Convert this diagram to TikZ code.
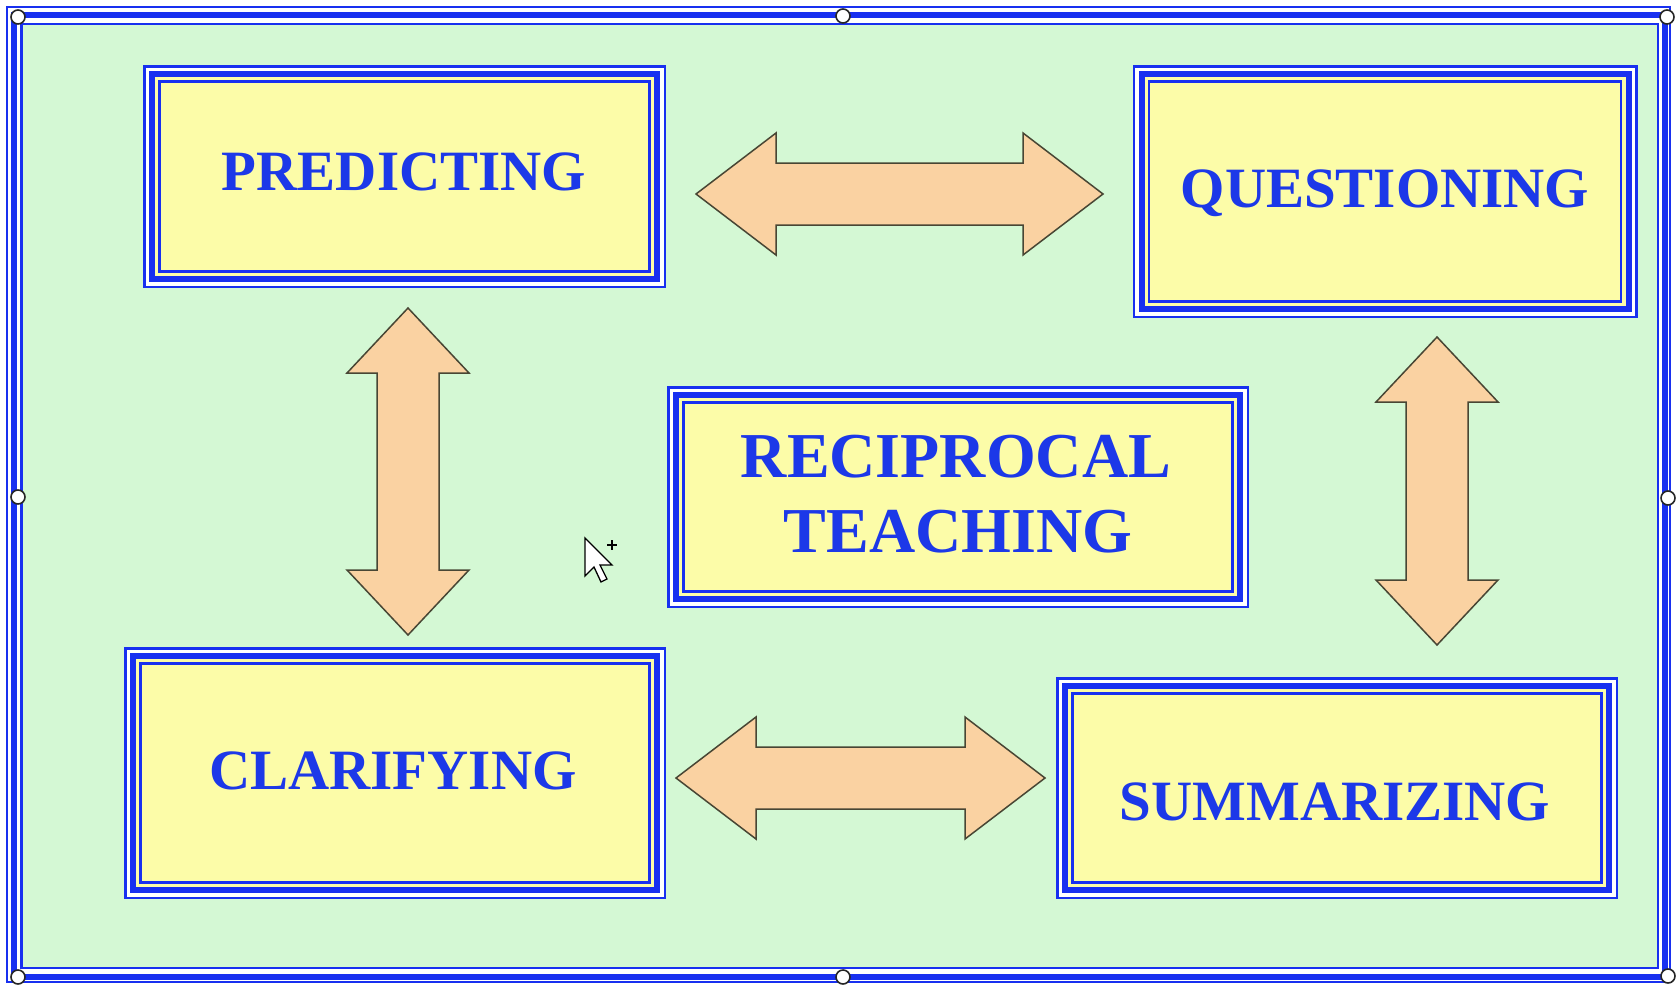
\documentclass[tikz,border=0pt]{standalone}
\usepackage{fontspec}
\setmainfont{Liberation Serif}
\usetikzlibrary{calc}

\definecolor{bggreen}{RGB}{212,248,212}
\definecolor{boxyellow}{RGB}{252,252,168}
\definecolor{lineblue}{RGB}{24,48,240}
\definecolor{textblue}{RGB}{28,56,232}
\definecolor{arrowpeach}{RGB}{250,210,162}
\definecolor{arrowedge}{RGB}{72,70,52}

\tikzset{
  box/.style={draw=lineblue, line width=6pt, fill=boxyellow, outer sep=0pt, inner sep=0pt,
    preaction={draw=lineblue, line width=18pt},
    preaction={draw=white, line width=13pt}},
  thinline/.style={draw=lineblue, line width=2.4pt},
  lbl/.style={text=textblue, font=\fontsize{57}{60}\selectfont\bfseries, anchor=base, inner sep=0pt},
  biglbl/.style={lbl, font=\fontsize{64}{66}\selectfont\bfseries},
  blockarrow/.style={fill=arrowpeach, draw=arrowedge, line width=1.5pt, line join=miter},
  handle/.style={fill=white, draw=black!85, line width=1.6pt}
}

% double block arrows between two tips
\newcommand{\hdouble}[2]{%
  \draw[blockarrow] (#1) -- ++(80,-61) -- ++(0,30) -- ($(#2)+(-80,-31)$) -- ++(0,-30)
    -- (#2) -- ++(-80,61) -- ++(0,-30) -- ($(#1)+(80,31)$) -- ++(0,30) -- cycle;}
\newcommand{\vdouble}[2]{%
  \draw[blockarrow] (#1) -- ++(61,65) -- ++(-30,0) -- ($(#2)+(31,-65)$) -- ++(30,0)
    -- (#2) -- ++(-61,-65) -- ++(30,0) -- ($(#1)+(-31,65)$) -- ++(-30,0) -- cycle;}

\begin{document}
\begin{tikzpicture}[x=1pt, y=-1pt]
    \useasboundingbox[fill=white] (0,0) rectangle (1677,985);
    % frame
    \draw[thinline] (7,7) rectangle (1670,982);
    \draw[draw=lineblue, line width=6pt] (13.5,15) rectangle (1665,977);
    \draw[thinline, fill=bggreen] (21.5,24) rectangle (1658,968);

    % boxes
    \node[box, minimum width=505pt, minimum height=205pt] (P) at (404.5,176.5) {};
    \node[box, minimum width=487pt, minimum height=235pt] (Q) at (1385,191.5) {};
    \node[box, minimum width=564pt, minimum height=204pt] (R) at (958,497) {};
    \node[box, minimum width=524pt, minimum height=234pt] (C) at (395,773) {};
    \node[box, minimum width=544pt, minimum height=204pt] (S) at (1337,788) {};
    \foreach \n in {P,Q,R,C,S}
        \draw[thinline] ([shift={(7.5,7.5)}]\n.north west) rectangle ([shift={(-7.5,-7.5)}]\n.south east);

    \node[lbl] (Pt) at (404,190) {PREDICTING};
    \node[lbl] (Qt) at (1385,207) {QUESTIONING};
    \node[biglbl] (Rt1) at (956,477) {RECIPROCAL};
    \node[biglbl] (Rt2) at (958,552) {TEACHING};
    \node[lbl] (Ct) at (393,789) {CLARIFYING};
    \node[lbl] (St) at (1335,820) {SUMMARIZING};

    % arrows
    \coordinate (PQa) at (696,194);
    \coordinate (PQb) at (1103,194);
    \coordinate (CSa) at (676,778);
    \coordinate (CSb) at (1045,778);
    \coordinate (PCa) at (408,308);
    \coordinate (PCb) at (408,635);
    \coordinate (QSa) at (1437,337);
    \coordinate (QSb) at (1437,645);
    \hdouble{PQa}{PQb}
    \hdouble{CSa}{CSb}
    \vdouble{PCa}{PCb}
    \vdouble{QSa}{QSb}

    % selection handles
    \foreach \p in {(18,17),(843,16),(1667,17),(18,497),(1668,498),(18,977),(843,977),(1668,976)}
        \draw[handle] \p circle (7);

    % cursor
    \draw[fill=white, draw=black, line width=1.3pt, line join=miter]
        (585,538) -- ++(0,38) -- ++(9,-9) -- ++(7,15) -- ++(6,-3) -- ++(-7,-14) -- ++(12,0) -- cycle;
    \draw[line width=1.5pt] (607,545) -- (617,545) (612,540) -- (612,550);
\end{tikzpicture}
\end{document}
